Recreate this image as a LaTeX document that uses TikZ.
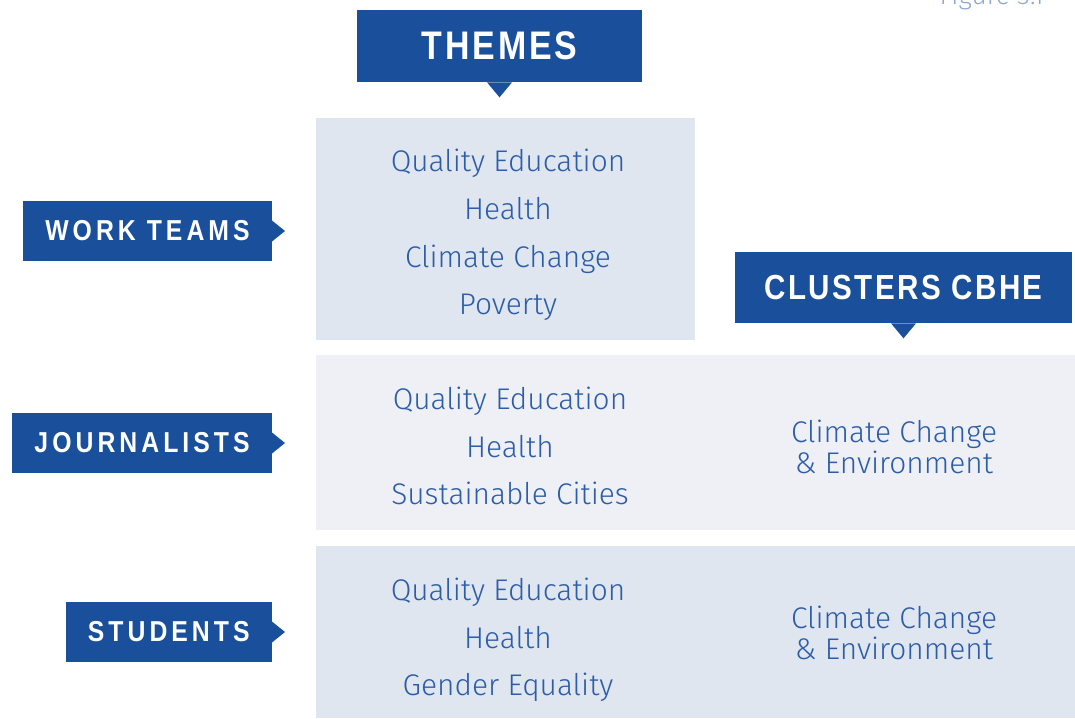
\documentclass[tikz,border=0pt]{standalone}
\usepackage{fontspec}
\setmainfont{Liberation Sans}
\newfontfamily\thinfont{Fira Sans Light}
\newfontfamily\tagfont[LetterSpace=14,FakeStretch=0.86]{Liberation Sans Bold}
\newfontfamily\headfont[LetterSpace=7,FakeStretch=0.85]{Liberation Sans Bold}
\definecolor{navy}{HTML}{1A4F9C}
\definecolor{inkblue}{HTML}{2C5DAA}
\definecolor{paleblue}{HTML}{DFE6F0}
\definecolor{palegrey}{HTML}{EEF0F5}
\definecolor{capblue}{HTML}{8CA8D8}

\begin{document}
\begin{tikzpicture}[x=0.02cm,y=-0.02cm,
    panel/.style={fill=#1, inner sep=0pt, anchor=north west},
    tag/.style={fill=navy, text=white, anchor=east, minimum height=1.2cm, inner xsep=0.44cm,
        font=\tagfont\fontsize{16.4}{18}\selectfont},
    head/.style={fill=navy, text=white, inner sep=0pt,
        font=\headfont\fontsize{#1}{24}\selectfont},
    items/.style={text=inkblue, align=center, font=\thinfont\fontsize{17}{27.2}\selectfont},
    pair/.style={text=inkblue, align=center, font=\thinfont\fontsize{17}{17.6}\selectfont}]
    \useasboundingbox (0,0) rectangle (1075,718);

    % caption, cut by the page edge
    \node[anchor=base east, text=capblue, font=\thinfont\fontsize{15}{17}\selectfont] (cap) at (1050,4) {Figure 3.1};

    % shaded panels
    \node[panel=paleblue, minimum width=7.58cm, minimum height=4.44cm] (pthemes) at (316,118) {};
    \node[panel=palegrey, minimum width=15.18cm, minimum height=3.5cm] (pjour) at (316,355) {};
    \node[panel=paleblue, minimum width=15.18cm, minimum height=3.44cm] (pstud) at (316,546) {};

    % column headers
    \node[head=22.7, minimum width=5.7cm, minimum height=1.44cm] (themes) at (499.5,46) {THEMES};
    \fill[navy] ([xshift=-0.25cm]themes.south) -- ([yshift=-0.3cm]themes.south) -- ([xshift=0.25cm]themes.south) -- cycle;
    \node[head=19.8, minimum width=6.74cm, minimum height=1.42cm] (cbhe) at (903.5,287.5) {CLUSTERS CBHE};
    \fill[navy] ([xshift=-0.25cm]cbhe.south) -- ([yshift=-0.3cm]cbhe.south) -- ([xshift=0.25cm]cbhe.south) -- cycle;

    % row labels
    \node[tag] (work) at (272,231) {WORK TEAMS};
    \node[tag] (jour) at (272,443) {JOURNALISTS};
    \node[tag] (stud) at (272,632) {STUDENTS};
    \foreach \t in {work,jour,stud}
        \fill[navy] ([yshift=0.21cm]\t.east) -- ([xshift=0.26cm]\t.east) -- ([yshift=-0.21cm]\t.east) -- cycle;

    % panel contents
    \node[items] (lwork) at (508,235) {Quality Education\\Health\\Climate Change\\Poverty};
    \node[items] (ljour) at (510,446) {Quality Education\\Health\\Sustainable Cities};
    \node[items] (lstud) at (508,640) {Quality Education\\Health\\Gender Equality};
    \node[pair] (rjour) at (894,447) {Climate Change\\\& Environment};
    \node[pair] (rstud) at (894,633) {Climate Change\\\& Environment};
\end{tikzpicture}
\end{document}
